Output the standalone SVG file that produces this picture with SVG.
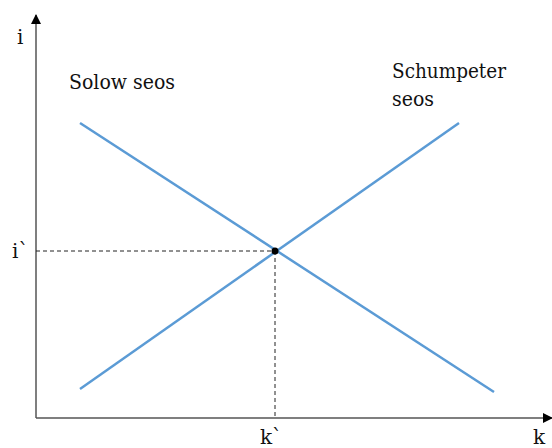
<svg xmlns="http://www.w3.org/2000/svg" width="552" height="448" viewBox="0 0 552 448">
<defs>
<style>
text{font-family:'DejaVu Serif',serif;font-size:20px;fill:#111}
.ax{stroke:#555;stroke-width:1.5;fill:none}
.cv{stroke:#5b9bd5;stroke-width:2.5;fill:none}
.dash{stroke:#222;stroke-width:1;stroke-dasharray:4 3;fill:none}
</style>
<marker id="ah" markerWidth="10" markerHeight="10" refX="9" refY="5" orient="auto" markerUnits="userSpaceOnUse" viewBox="0 0 10 10">
<path d="M0,0 L10,5 L0,10 Z" fill="#000"/>
</marker>
</defs>
<g id="connectors">
<line class="ax" x1="36" y1="418" x2="36" y2="15" marker-end="url(#ah)"/>
<line class="ax" x1="36" y1="418" x2="552" y2="418" marker-end="url(#ah)"/>
<line class="dash" x1="36" y1="251" x2="275" y2="251"/>
<line class="dash" x1="275" y1="251" x2="275" y2="418"/>
</g>
<g id="solow">
<line class="cv" x1="80" y1="123" x2="494" y2="392"/>
<text x="69" y="89" textLength="106" lengthAdjust="spacingAndGlyphs">Solow seos</text>
</g>
<g id="schumpeter">
<line class="cv" x1="80" y1="389" x2="459" y2="123"/>
<text x="392" y="78" textLength="114" lengthAdjust="spacingAndGlyphs">Schumpeter</text>
<text x="392" y="106" textLength="42" lengthAdjust="spacingAndGlyphs">seos</text>
</g>
<g id="equilibrium">
<circle cx="275" cy="251" r="3.5" fill="#000"/>
</g>
<g id="labels">
<text x="17" y="44">i</text>
<text x="12" y="258">i`</text>
<text x="260" y="444">k`</text>
<text x="533" y="444">k</text>
</g>
</svg>
